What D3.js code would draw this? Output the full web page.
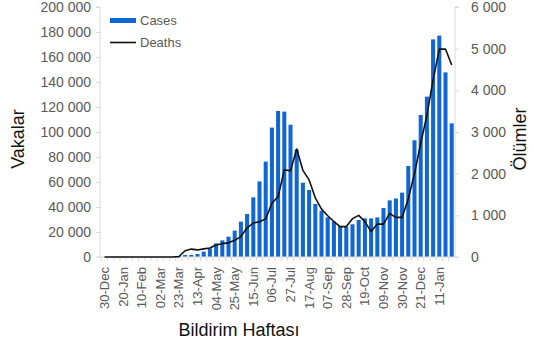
<!DOCTYPE html>
<html>
<head>
<meta charset="utf-8">
<script src="https://cdn.jsdelivr.net/npm/d3@7"></script>
<style>
  body { margin: 0; background: #fff; }
  svg { display: block; font-family: "Liberation Sans", Arial, sans-serif; }
  .axis path, .axis line { stroke: #d9d9d9; }
  .axis text { fill: #595959; }
  .axis-title { fill: #111; font-size: 18px; }
</style>
</head>
<body>
<svg id="chart" width="534" height="353"></svg>
<script>
// Weekly notification dates (week starting)
const weeks = [
  '30-Dec', '06-Jan', '13-Jan', '20-Jan', '27-Jan', '03-Feb', '10-Feb', '17-Feb', '24-Feb', '02-Mar',
  '09-Mar', '16-Mar', '23-Mar', '30-Mar', '06-Apr', '13-Apr', '20-Apr', '27-Apr', '04-May', '11-May',
  '18-May', '25-May', '01-Jun', '08-Jun', '15-Jun', '22-Jun', '29-Jun', '06-Jul', '13-Jul', '20-Jul',
  '27-Jul', '03-Aug', '10-Aug', '17-Aug', '24-Aug', '31-Aug', '07-Sep', '14-Sep', '21-Sep', '28-Sep',
  '05-Oct', '12-Oct', '19-Oct', '26-Oct', '02-Nov', '09-Nov', '16-Nov', '23-Nov', '30-Nov', '07-Dec',
  '14-Dec', '21-Dec', '28-Dec', '04-Jan', '11-Jan', '18-Jan', '25-Jan',
];

// Only every third week gets a label
const tickLabels = [
  '30-Dec', '20-Jan', '10-Feb', '02-Mar', '23-Mar', '13-Apr', '04-May', '25-May', '15-Jun', '06-Jul',
  '27-Jul', '17-Aug', '07-Sep', '28-Sep', '19-Oct', '09-Nov', '30-Nov', '21-Dec', '11-Jan',
];

const cases = [
  0, 0, 0, 0, 0, 0, 0, 0, 0, 0,
  0, 100, 600, 1600, 1600, 2400, 4300, 6900, 10900, 13300,
  16300, 21100, 28300, 34400, 47700, 60500, 76300, 103500, 116800, 116300,
  105800, 86000, 59400, 53600, 42400, 37000, 31700, 28300, 24800, 24300,
  26200, 29600, 30900, 30900, 31700, 39200, 45300, 46800, 51500, 72800,
  93400, 113600, 128300, 174100, 177100, 147700, 106900,
];

const deaths = [
  0, 0, 0, 0, 0, 0, 0, 0, 0, 0,
  0, 0, 10, 150, 190, 170, 195, 215, 290, 320,
  340, 400, 490, 700, 815, 845, 915, 1290, 1450, 2090,
  2070, 2590, 2080, 1850, 1420, 1150, 990, 850, 730, 730,
  920, 1000, 850, 610, 790, 790, 1045, 950, 950, 1400,
  2000, 2730, 3400, 4250, 4990, 4990, 4610,
];

const seriesNames = ['Cases', 'Deaths'];
const axisTitles = { left: 'Vakalar', right: 'Ölümler', bottom: 'Bildirim Haftası' };

class ComboChart {
  constructor(svg) {
    this.svg = svg;
    this.init();
  }

  init() {
    // Plot area, in page pixels
    this.left = 100;
    this.right = 455;
    this.top = 7;
    this.bottom = 257;

    this.x = d3.scaleBand()
      .domain(weeks)
      .range([101.4, 454.8])
      .paddingInner(0.35)
      .paddingOuter(0.175);

    this.yCases = d3.scaleLinear().domain([0, 200000]).range([this.bottom, this.top]);
    this.yDeaths = d3.scaleLinear().domain([0, 6000]).range([this.bottom, this.top]);

    // Space as thousands separator
    this.fmt = d3.formatLocale({ decimal: ',', thousands: ' ', grouping: [3], currency: ['', ''] }).format(',');

    this.render();
  }

  render() {
    const vis = this;

    // Left axis (cases)
    vis.svg.append('g')
      .attr('class', 'axis')
      .attr('transform', `translate(${vis.left},0)`)
      .call(d3.axisLeft(vis.yCases).ticks(10).tickSize(4).tickPadding(5).tickFormat(vis.fmt))
      .call((g) => g.selectAll('text').attr('font-size', 14))
      .call((g) => g.select('.domain').attr('d', `M-4,${vis.top}H0V${vis.bottom}H-4`));

    // Right axis (deaths)
    vis.svg.append('g')
      .attr('class', 'axis')
      .attr('transform', `translate(${vis.right},0)`)
      .call(d3.axisRight(vis.yDeaths).ticks(6).tickSize(4).tickPadding(12).tickFormat(vis.fmt))
      .call((g) => g.selectAll('text').attr('font-size', 14))
      .call((g) => g.select('.domain').attr('d', `M4,${vis.top}H0V${vis.bottom}H4`));

    // Bars
    vis.svg.append('g')
      .selectAll('rect')
      .data(cases)
      .join('rect')
      .attr('x', (d, i) => vis.x(weeks[i]))
      .attr('y', (d) => vis.yCases(d))
      .attr('width', vis.x.bandwidth())
      .attr('height', (d) => vis.bottom - vis.yCases(d))
      .attr('fill', '#1166d6');

    // Bottom axis: a tick per week between categories, a label every third week
    const half = vis.x.step() / 2;
    vis.svg.append('g')
      .attr('class', 'axis')
      .attr('transform', `translate(0,${vis.bottom})`)
      .call(d3.axisBottom(vis.x).tickValues(weeks).tickSize(4)
        .tickFormat((d) => (tickLabels.includes(d) ? d : '')))
      .call((g) => g.select('.domain').attr('d', `M${vis.left},0H${vis.right}`))
      .call((g) => g.selectAll('.tick line').attr('x1', -half).attr('x2', -half))
      .call((g) => g.selectAll('.tick text')
        .attr('font-size', 13)
        .attr('text-anchor', 'end')
        .attr('transform', 'rotate(-90)')
        .attr('x', -10)
        .attr('y', 0)
        .attr('dy', '0.35em'));

    // Deaths line
    const line = d3.line()
      .x((d, i) => vis.x(weeks[i]) + vis.x.bandwidth() / 2)
      .y((d) => vis.yDeaths(d));

    vis.svg.append('path')
      .datum(deaths)
      .attr('d', line)
      .attr('fill', 'none')
      .attr('stroke', '#111')
      .attr('stroke-width', 1.6)
      .attr('stroke-linejoin', 'round');

    // Legend
    const legend = vis.svg.append('g').attr('transform', 'translate(110,0)');
    legend.append('rect')
      .attr('x', 0).attr('y', 18)
      .attr('width', 26).attr('height', 5)
      .attr('fill', '#1166d6');
    legend.append('line')
      .attr('x1', 0).attr('x2', 26)
      .attr('y1', 42.5).attr('y2', 42.5)
      .attr('stroke', '#111')
      .attr('stroke-width', 1.6);
    legend.selectAll('text')
      .data(seriesNames)
      .join('text')
      .attr('x', 30)
      .attr('y', (d, i) => 20.5 + i * 22)
      .attr('dy', '0.35em')
      .attr('font-size', 13)
      .attr('fill', '#595959')
      .text((d) => d);

    // Axis titles
    vis.svg.append('text')
      .attr('class', 'axis-title')
      .attr('transform', 'translate(18,139) rotate(-90)')
      .attr('text-anchor', 'middle')
      .attr('dy', '0.35em')
      .text(axisTitles.left);

    vis.svg.append('text')
      .attr('class', 'axis-title')
      .attr('transform', 'translate(520,139) rotate(-90)')
      .attr('text-anchor', 'middle')
      .attr('dy', '0.35em')
      .text(axisTitles.right);

    vis.svg.append('text')
      .attr('class', 'axis-title')
      .attr('x', 239)
      .attr('y', 330)
      .attr('text-anchor', 'middle')
      .attr('dy', '0.35em')
      .text(axisTitles.bottom);
  }
}

new ComboChart(d3.select('#chart'));
</script>
</body>
</html>
